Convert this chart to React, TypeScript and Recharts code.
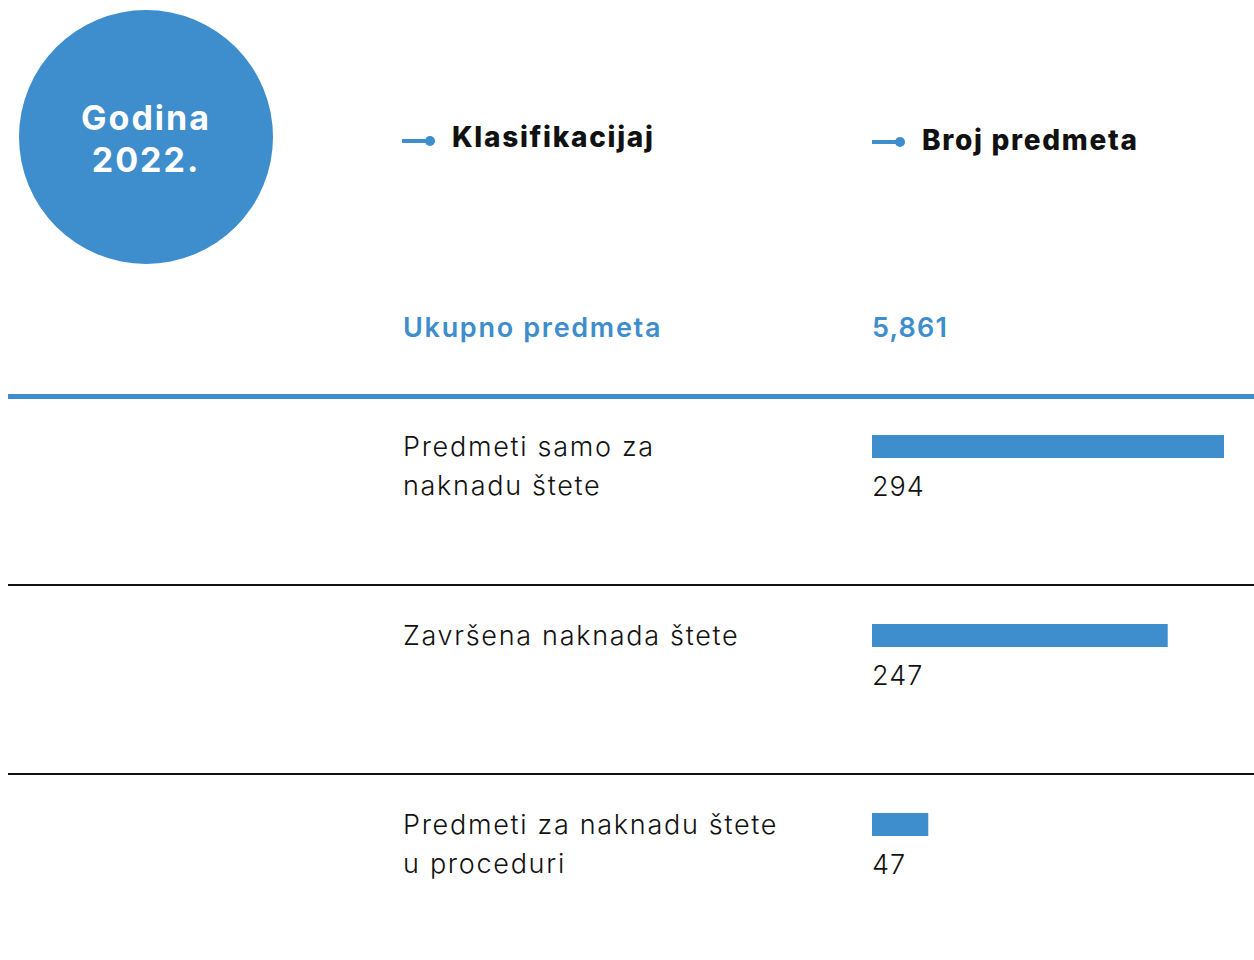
import React from "react";
import { BarChart, Bar, XAxis, YAxis, LabelList } from "recharts";

// Row categories and values
const categories = [
  ["Predmeti samo za", "naknadu štete"],
  ["Završena naknada štete"],
  ["Predmeti za naknadu štete", "u proceduri"],
];
const counts = [294, 247, 47];

const yearTitle = ["Godina", "2022."];
const headerLabels = ["Klasifikacijaj", "Broj predmeta"];
const totalLabel = "Ukupno predmeta";
const totalValue = "5,861";

const BLUE = "#3E8DCC";
const FONT = "Inter, 'Open Sans', sans-serif";

const data = categories.map((lines, i) => ({
  name: lines.join(" "),
  lines,
  value: counts[i],
}));

const LABEL_X = 403;

function CategoryTick(props: any) {
  const { y, payload, index } = props;
  const lines = data[index]?.lines ?? [payload.value];
  return (
    <text
      x={LABEL_X}
      y={y}
      fill="#111"
      fontSize={27}
      fontWeight={300}
      fontFamily={FONT}
      letterSpacing={1.7}
      textAnchor="start"
    >
      {lines.map((l: string, i: number) => (
        <tspan key={i} x={LABEL_X} dy={i === 0 ? "0.35em" : 39}>
          {l}
        </tspan>
      ))}
    </text>
  );
}

function ValueLabel(props: any) {
  const { x, y, height, value } = props;
  return (
    <text
      x={x}
      y={y + height + 38}
      fill="#111"
      fontSize={27}
      fontWeight={300}
      fontFamily={FONT}
      letterSpacing={1}
      textAnchor="start"
    >
      {value}
    </text>
  );
}

function HeaderIcon({ left, top }: { left: number; top: number }) {
  return (
    <svg style={{ position: "absolute", left, top }} width={36} height={14}>
      <line x1={0} y1={7} x2={28} y2={7} stroke={BLUE} strokeWidth={4} />
      <circle cx={28} cy={7} r={5} fill={BLUE} />
    </svg>
  );
}

export default function App() {
  return (
    <div
      style={{
        position: "absolute",
        left: 0,
        top: 0,
        width: 1254,
        height: 960,
        background: "#fff",
        fontFamily: FONT,
        overflow: "hidden",
      }}
    >
      {/* year circle */}
      <div
        style={{
          position: "absolute",
          left: 19,
          top: 10,
          width: 254,
          height: 254,
          borderRadius: "50%",
          background: BLUE,
          color: "#fff",
          fontWeight: 700,
          fontSize: 34,
          letterSpacing: 2,
          lineHeight: "42px",
          textAlign: "center",
          display: "flex",
          flexDirection: "column",
          justifyContent: "center",
          paddingTop: 4,
          boxSizing: "border-box",
        }}
      >
        <div>{yearTitle[0]}</div>
        <div>{yearTitle[1]}</div>
      </div>

      {/* headers */}
      <HeaderIcon left={402} top={134} />
      <div
        style={{ position: "absolute", left: 452, top: 120, fontSize: 28, fontWeight: 800, letterSpacing: 1.7, color: "#111" }}
      >
        {headerLabels[0]}
      </div>
      <HeaderIcon left={872} top={135} />
      <div
        style={{ position: "absolute", left: 922, top: 123, fontSize: 28, fontWeight: 800, letterSpacing: 1.7, color: "#111" }}
      >
        {headerLabels[1]}
      </div>

      {/* total */}
      <div
        style={{ position: "absolute", left: 403, top: 311, fontSize: 27, fontWeight: 600, letterSpacing: 1.7, color: BLUE }}
      >
        {totalLabel}
      </div>
      <div
        style={{ position: "absolute", left: 872, top: 311, fontSize: 27, fontWeight: 600, letterSpacing: 1.2, color: BLUE }}
      >
        {totalValue}
      </div>

      {/* separators */}
      <div style={{ position: "absolute", left: 8, top: 394, width: 1246, height: 5, background: BLUE }} />
      <div style={{ position: "absolute", left: 8, top: 584, width: 1246, height: 2, background: "#111" }} />
      <div style={{ position: "absolute", left: 8, top: 773, width: 1246, height: 2, background: "#111" }} />

      <div style={{ position: "absolute", left: 0, top: 0 }}>
        <BarChart
          width={1254}
          height={960}
          data={data}
          layout="vertical"
          margin={{ top: 352, right: 30, bottom: 41, left: 0 }}
          barCategoryGap={83}
        >
          <XAxis type="number" domain={[0, 294]} hide />
          <YAxis
            type="category"
            dataKey="name"
            width={872}
            axisLine={false}
            tickLine={false}
            tick={<CategoryTick />}
          />
          <Bar dataKey="value" fill={BLUE} barSize={23} isAnimationActive={false}>
            <LabelList dataKey="value" content={<ValueLabel />} />
          </Bar>
        </BarChart>
      </div>
    </div>
  );
}
